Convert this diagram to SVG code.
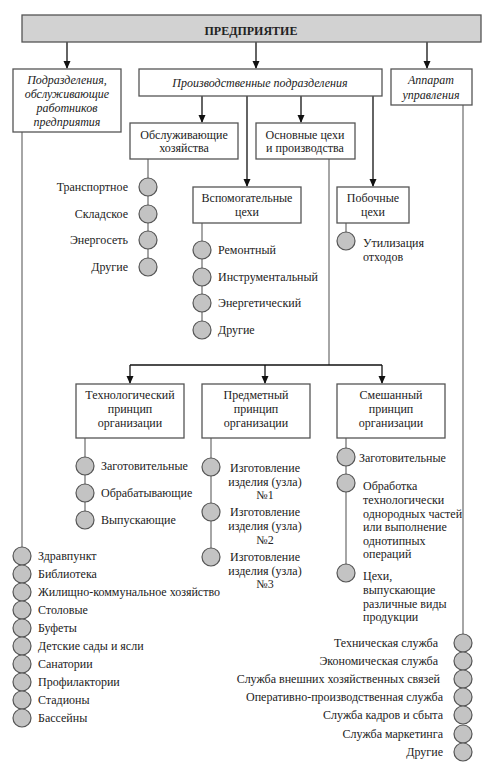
<svg xmlns="http://www.w3.org/2000/svg" width="500" height="776" viewBox="0 0 500 776">
<defs>
<marker id="ar" markerWidth="8" markerHeight="8" refX="7" refY="4" orient="auto" markerUnits="userSpaceOnUse">
<path d="M0,0.5 L8,4 L0,7.5 Z" fill="#111"/>
</marker>
<style>
text{font-family:"Liberation Serif","Times New Roman",serif;font-size:12px;fill:#222}
.c{text-anchor:middle}
.e{text-anchor:end}
.i{font-style:italic}
.b{fill:#fff;stroke:#555;stroke-width:1.3}
.ar{stroke:#111;stroke-width:1.3;fill:none;marker-end:url(#ar)}
.ln{stroke:#888;stroke-width:1.5;fill:none}
.dot{fill:#c3c3c3;stroke:#555;stroke-width:1.2}
</style>
</defs>
<rect width="500" height="776" fill="#fff"/>
<g id="connectors">
<path class="ar" d="M67,42 V68"/>
<path class="ar" d="M256,42 V68"/>
<path class="ar" d="M427,42 V68"/>
<path class="ar" d="M202,96 V122"/>
<path class="ar" d="M301,96 V122"/>
<path class="ar" d="M247,96 V186"/>
<path class="ar" d="M373,96 V186"/>
<path class="ln" d="M329,159 V365"/>
<path style="stroke:#111;stroke-width:1.3;fill:none" d="M130,365 H382"/>
<path class="ar" d="M130,365 V383"/>
<path class="ar" d="M265,365 V383"/>
<path class="ar" d="M382,365 V383"/>
<path class="ln" d="M22,132 V547"/>
<path class="ln" d="M463,105 V634"/>
<path class="ln" d="M148,159 V267"/>
<path class="ln" d="M202,223 V330"/>
<path class="ln" d="M346,223 V241"/>
<path class="ln" d="M85,438 V520"/>
<path class="ln" d="M211,438 V557"/>
<path class="ln" d="M346,438 V573"/>
</g>
<g id="n-enterprise">
<rect x="22" y="15" width="459" height="27" fill="#d2d2d2" stroke="#555" stroke-width="1.3"/>
<text x="251" y="35" class="c" font-weight="bold">ПРЕДПРИЯТИЕ</text>
</g>
<g id="n-service-staff">
<rect class="b" x="13" y="69" width="108" height="63"/>
<text class="c i" x="67" y="84">Подразделения,</text>
<text class="c i" x="67" y="98">обслуживающие</text>
<text class="c i" x="67" y="112">работников</text>
<text class="c i" x="67" y="126">предприятия</text>
</g>
<g id="n-production">
<rect class="b" x="139" y="69" width="243" height="27"/>
<text class="c i" x="260" y="87">Производственные подразделения</text>
</g>
<g id="n-management">
<rect class="b" x="391" y="69" width="81" height="36"/>
<text class="c i" x="431" y="84">Аппарат</text>
<text class="c i" x="431" y="99">управления</text>
</g>
<g id="n-service-farms">
<rect class="b" x="130" y="123" width="108" height="36"/>
<text class="c" x="184" y="139">Обслуживающие</text>
<text class="c" x="184" y="152">хозяйства</text>
</g>
<g id="n-main-shops">
<rect class="b" x="256" y="123" width="99" height="36"/>
<text class="c" x="305" y="139">Основные цехи</text>
<text class="c" x="305" y="152">и производства</text>
</g>
<g id="n-aux-shops">
<rect class="b" x="193" y="187" width="108" height="36"/>
<text class="c" x="247" y="202">Вспомогательные</text>
<text class="c" x="247" y="216">цехи</text>
</g>
<g id="n-side-shops">
<rect class="b" x="337" y="187" width="72" height="36"/>
<text class="c" x="373" y="202">Побочные</text>
<text class="c" x="373" y="216">цехи</text>
</g>
<g id="n-service-farm-items">
<circle class="dot" cx="148" cy="187" r="9"/><text class="e" x="128" y="191">Транспортное</text>
<circle class="dot" cx="148" cy="214" r="9"/><text class="e" x="128" y="218">Складское</text>
<circle class="dot" cx="148" cy="240" r="9"/><text class="e" x="128" y="244">Энергосеть</text>
<circle class="dot" cx="148" cy="267" r="9"/><text class="e" x="128" y="271">Другие</text>
</g>
<g id="n-aux-items">
<circle class="dot" cx="202" cy="250" r="9"/><text x="218" y="254">Ремонтный</text>
<circle class="dot" cx="202" cy="277" r="9"/><text x="218" y="281">Инструментальный</text>
<circle class="dot" cx="202" cy="303" r="9"/><text x="218" y="307">Энергетический</text>
<circle class="dot" cx="202" cy="330" r="9"/><text x="218" y="334">Другие</text>
</g>
<g id="n-side-items">
<circle class="dot" cx="346" cy="241" r="9"/>
<text x="363" y="247">Утилизация</text>
<text x="363" y="261">отходов</text>
</g>
<g id="n-tech">
<rect class="b" x="76" y="384" width="108" height="54"/>
<text class="c" x="130" y="399">Технологический</text>
<text class="c" x="130" y="413">принцип</text>
<text class="c" x="130" y="427">организации</text>
</g>
<g id="n-subject">
<rect class="b" x="202" y="384" width="108" height="54"/>
<text class="c" x="256" y="399">Предметный</text>
<text class="c" x="256" y="413">принцип</text>
<text class="c" x="256" y="427">организации</text>
</g>
<g id="n-mixed">
<rect class="b" x="337" y="384" width="108" height="54"/>
<text class="c" x="391" y="399">Смешанный</text>
<text class="c" x="391" y="413">принцип</text>
<text class="c" x="391" y="427">организации</text>
</g>
<g id="n-tech-items">
<circle class="dot" cx="85" cy="466" r="9"/><text x="101" y="470">Заготовительные</text>
<circle class="dot" cx="85" cy="493" r="9"/><text x="101" y="497">Обрабатывающие</text>
<circle class="dot" cx="85" cy="520" r="9"/><text x="101" y="524">Выпускающие</text>
</g>
<g id="n-subject-items">
<circle class="dot" cx="211" cy="467" r="9"/>
<text class="c" x="265" y="472">Изготовление</text>
<text class="c" x="265" y="486">изделия (узла)</text>
<text class="c" x="265" y="499">№1</text>
<circle class="dot" cx="211" cy="512" r="9"/>
<text class="c" x="265" y="516">Изготовление</text>
<text class="c" x="265" y="530">изделия (узла)</text>
<text class="c" x="265" y="544">№2</text>
<circle class="dot" cx="211" cy="557" r="9"/>
<text class="c" x="265" y="561">Изготовление</text>
<text class="c" x="265" y="575">изделия (узла)</text>
<text class="c" x="265" y="588">№3</text>
</g>
<g id="n-mixed-items">
<circle class="dot" cx="346" cy="457" r="9"/><text x="359" y="462">Заготовительные</text>
<circle class="dot" cx="346" cy="483" r="9"/>
<text x="363" y="490">Обработка</text>
<text x="363" y="504">технологически</text>
<text x="363" y="518">однородных частей</text>
<text x="363" y="531">или выполнение</text>
<text x="363" y="545">однотипных</text>
<text x="363" y="558">операций</text>
<circle class="dot" cx="346" cy="573" r="9"/>
<text x="363" y="580">Цехи,</text>
<text x="363" y="594">выпускающие</text>
<text x="363" y="608">различные виды</text>
<text x="363" y="621">продукции</text>
</g>
<g id="n-staff-items">
<circle class="dot" cx="22" cy="556" r="9"/><text x="38" y="560">Здравпункт</text>
<circle class="dot" cx="22" cy="574" r="9"/><text x="38" y="578">Библиотека</text>
<circle class="dot" cx="22" cy="592" r="9"/><text x="38" y="596">Жилищно-коммунальное хозяйство</text>
<circle class="dot" cx="22" cy="610" r="9"/><text x="38" y="614">Столовые</text>
<circle class="dot" cx="22" cy="628" r="9"/><text x="38" y="632">Буфеты</text>
<circle class="dot" cx="22" cy="646" r="9"/><text x="38" y="650">Детские сады и ясли</text>
<circle class="dot" cx="22" cy="664" r="9"/><text x="38" y="668">Санатории</text>
<circle class="dot" cx="22" cy="682" r="9"/><text x="38" y="686">Профилактории</text>
<circle class="dot" cx="22" cy="700" r="9"/><text x="38" y="704">Стадионы</text>
<circle class="dot" cx="22" cy="718" r="9"/><text x="38" y="722">Бассейны</text>
</g>
<g id="n-management-items">
<circle class="dot" cx="463" cy="643" r="9"/><text class="e" x="438" y="647">Техническая служба</text>
<circle class="dot" cx="463" cy="661" r="9"/><text class="e" x="438" y="665">Экономическая служба</text>
<circle class="dot" cx="463" cy="679" r="9"/><text class="e" x="440" y="683">Служба внешних хозяйственных связей</text>
<circle class="dot" cx="463" cy="697" r="9"/><text class="e" x="443" y="701">Оперативно-производственная служба</text>
<circle class="dot" cx="463" cy="715" r="9"/><text class="e" x="443" y="719">Служба кадров и сбыта</text>
<circle class="dot" cx="463" cy="734" r="9"/><text class="e" x="443" y="738">Служба маркетинга</text>
<circle class="dot" cx="463" cy="752" r="9"/><text class="e" x="443" y="756">Другие</text>
</g>
</svg>
